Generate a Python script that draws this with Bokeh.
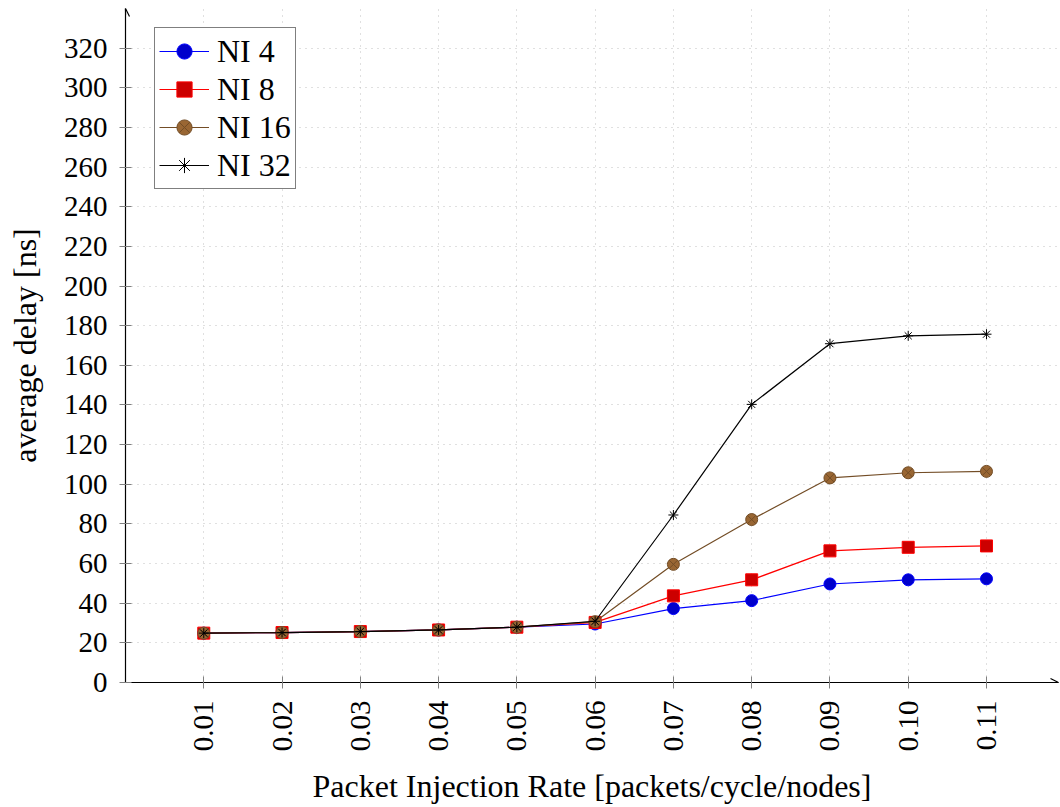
from bokeh.plotting import figure
from bokeh.models import FixedTicker, Legend, Arrow, OpenHead, Range1d
from bokeh.embed import file_html
from bokeh.resources import INLINE
import math

# ---- data ----
rates = [0.01, 0.02, 0.03, 0.04, 0.05, 0.06, 0.07, 0.08, 0.09, 0.10, 0.11]
rate_labels = ["0.01", "0.02", "0.03", "0.04", "0.05", "0.06", "0.07", "0.08", "0.09", "0.10", "0.11"]
ni4 = [24.9, 25.2, 25.7, 26.5, 27.9, 29.5, 37.3, 41.3, 49.7, 51.8, 52.3]
ni8 = [24.9, 25.2, 25.7, 26.5, 27.9, 30.3, 43.7, 51.8, 66.4, 68.2, 68.9]
ni16 = [24.9, 25.2, 25.7, 26.5, 27.9, 30.7, 59.6, 82.2, 103.2, 105.8, 106.5]
ni32 = [24.9, 25.2, 25.7, 26.5, 27.9, 30.9, 84.5, 140.3, 170.9, 174.9, 175.7]
y_ticks = list(range(0, 321, 20))
X_MIN, X_MAX = 0.0, 0.1192
Y_MIN, Y_MAX = 0.0, 340.0

FONT = "'Liberation Serif', serif"
FS = "29px"
FS_LABEL = "32px"

p = figure(width=1060, height=807, output_backend="svg", toolbar_location=None,
           x_range=Range1d(X_MIN, X_MAX), y_range=Range1d(Y_MIN, Y_MAX),
           min_border_left=125, min_border_right=2, min_border_top=8, min_border_bottom=125)
p.outline_line_color = None
p.background_fill_color = "white"
p.border_fill_color = "white"

# axes
p.xaxis.ticker = FixedTicker(ticks=rates)
p.xaxis.major_label_overrides = {r: l for r, l in zip(rates, rate_labels)}
p.xaxis.major_label_orientation = math.pi / 2
p.yaxis.ticker = FixedTicker(ticks=y_ticks)
for ax in (p.xaxis, p.yaxis):
    ax.axis_line_color = "black"
    ax.axis_line_width = 1.2
    ax.major_tick_line_color = "#808080"
    ax.major_tick_line_width = 1
    ax.major_tick_in = 6
    ax.major_tick_out = 6
    ax.minor_tick_line_color = None
    ax.major_label_text_font = FONT
    ax.major_label_text_font_size = FS
    ax.major_label_text_font_style = "normal"
    ax.major_label_text_color = "black"
    ax.major_label_standoff = 12
    ax.axis_label_text_font = FONT
    ax.axis_label_text_font_size = FS_LABEL
    ax.axis_label_text_font_style = "normal"
    ax.axis_label_text_color = "black"
p.xaxis.axis_label_standoff = 14
p.yaxis.axis_label_standoff = 18
p.xaxis.axis_label = "Packet Injection Rate [packets/cycle/nodes]"
p.yaxis.axis_label = "average delay [ns]"

for g in (p.xgrid, p.ygrid):
    g.grid_line_color = "#c0c0c0"
    g.grid_line_dash = "1 5"
    g.grid_line_width = 1
p.xgrid.ticker = FixedTicker(ticks=rates)
p.ygrid.ticker = FixedTicker(ticks=y_ticks)

# axis arrows
p.add_layout(Arrow(x_start=X_MAX * 0.99, y_start=Y_MIN, x_end=X_MAX, y_end=Y_MIN,
                   line_color="black", line_width=1.2,
                   end=OpenHead(size=8, line_width=1.2, line_color="black")))
p.add_layout(Arrow(x_start=X_MIN, y_start=Y_MAX * 0.99, x_end=X_MIN, y_end=Y_MAX,
                   line_color="black", line_width=1.2,
                   end=OpenHead(size=8, line_width=1.2, line_color="black")))

series = [
    ("NI 4", ni4, "#0000ff", "#0000cc", "circle", 12),
    ("NI 8", ni8, "#ff0000", "#cc0000", "square", 12),
    ("NI 16", ni16, "#734d26", "#996633", "circle_x", 12),
    ("NI 32", ni32, "#000000", None, "asterisk", 10),
]
items = []
for name, ys, lc, fc, marker, size in series:
    l = p.line(rates, ys, line_color=lc, line_width=1.2)
    s = p.scatter(rates, ys, marker=marker, size=size, line_color=lc,
                  fill_color=fc, line_width=1)
    items.append((name, [l, s]))

legend = Legend(items=items, location=(29, 493))
legend.label_text_font = FONT
legend.label_text_font_size = FS_LABEL
legend.label_text_font_style = "normal"
legend.label_text_color = "black"
legend.border_line_color = "black"
legend.border_line_width = 1.2
legend.background_fill_color = "white"
legend.background_fill_alpha = 1
legend.padding = 4
legend.spacing = 0
legend.label_height = 38
legend.glyph_height = 38
legend.glyph_width = 50
legend.label_standoff = 8
legend.margin = 0
p.add_layout(legend)

open("out.html", "w").write(file_html(p, INLINE))
